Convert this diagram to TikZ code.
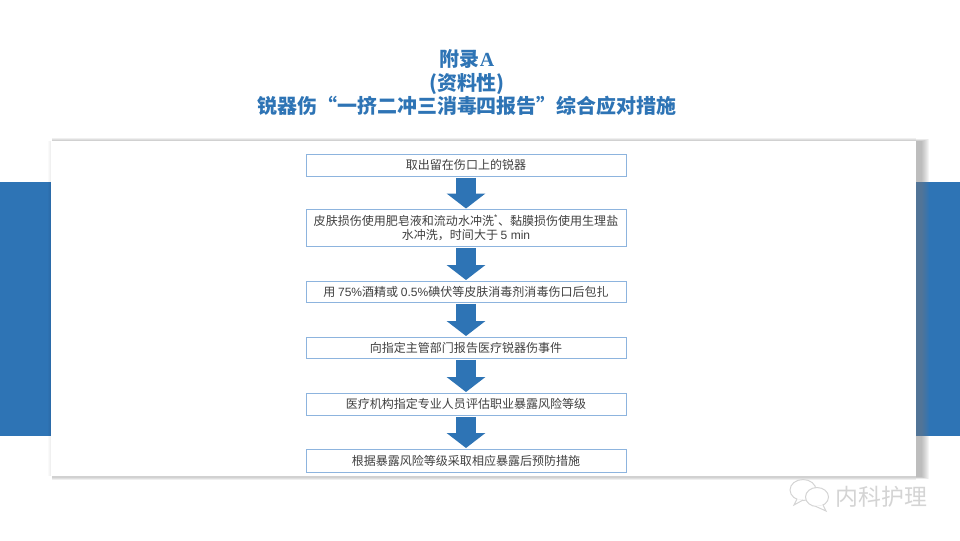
\documentclass[tikz,border=0pt]{standalone}
\usepackage{fontspec}
\usepackage{tikz}
\usetikzlibrary{positioning, arrows.meta}
\setmainfont{Noto Sans CJK SC}
\newfontfamily\latinfont{Liberation Sans}
\newfontfamily\serifbold{Liberation Serif}
\definecolor{bandblue}{HTML}{2E74B5}
\definecolor{boxline}{HTML}{8DB4DE}
\definecolor{bodytext}{HTML}{404040}
\definecolor{markgray}{HTML}{D4D4D4}
\definecolor{shadowgray}{HTML}{7D7D7D}

\begin{document}
\begin{tikzpicture}[x=0.025cm,y=-0.025cm,
        flowbox/.style={draw=boxline,line width=0.6pt,fill=white,minimum width=8cm,
            inner sep=0pt,outer sep=0pt,align=center,text=bodytext,
            font=\fontsize{8.55}{9.9}\selectfont},
        flowarrow/.style={draw=bandblue,line width=0.5cm,
            -{Triangle[width=0.95cm,length=0.375cm,fill=bandblue]},shorten <=1.4pt,shorten >=0.7pt},
        bubble/.style={draw=markgray,line width=0.7pt,fill=white}]
        \useasboundingbox (0,0) rectangle (960,540);
        \fill[white] (0,0) rectangle (960,540);

        % bands and panel
        \fill[bandblue] (0,182) rectangle (960,436);
        \foreach \i in {0,...,5}
            \fill[black,opacity=0.03] (52,{137.5+\i*0.5}) rectangle (916,{480-\i*0.5});
        \foreach \i in {0,...,7}
            \fill[shadowgray,opacity=0.08] (916,{139+\i*0.3}) rectangle ({929-\i},{479-\i*0.3});
        \foreach \i in {0,...,3}
            \fill[black,opacity=0.02] ({48+\i},141) rectangle (60,476);
        \fill[white] (51,141) rectangle (916,476);

        \node[text=bandblue,align=center,font=\fontsize{14.2}{16.7}\selectfont\bfseries] (title) at (467,83)
            {附录{\serifbold A}\\(资料性)\\锐器伤“一挤二冲三消毒四报告”综合应对措施};

        \node[flowbox,minimum height=0.55cm] (s1) at (466,165) {取出留在伤口上的锐器};
        \node[flowbox,minimum height=0.925cm] (s2) at (466,228) {皮肤损伤使用肥皂液和流动水冲洗{\latinfont\textsuperscript{*}}、黏膜损伤使用生理盐\\水冲洗，时间大于 {\latinfont 5 min}};
        \node[flowbox,minimum height=0.525cm] (s3) at (466,291.5) {用 {\latinfont 75\%}酒精或 {\latinfont 0.5\%}碘伏等皮肤消毒剂消毒伤口后包扎};
        \node[flowbox,minimum height=0.525cm] (s4) at (466,347.5) {向指定主管部门报告医疗锐器伤事件};
        \node[flowbox,minimum height=0.55cm] (s5) at (466,404) {医疗机构指定专业人员评估职业暴露风险等级};
        \node[flowbox,minimum height=0.575cm] (s6) at (466,460.5) {根据暴露风险等级采取相应暴露后预防措施};

        \path[flowarrow] (s1) edge (s2)
                         (s2) edge (s3)
                         (s3) edge (s4)
                         (s4) edge (s5)
                         (s5) edge (s6);

        % watermark
        \draw[bubble] (803,490) ellipse (13 and 10.5);
        \draw[bubble] (797,499) -- (794,505) -- (803,500);
        \draw[bubble] (817,497) ellipse (11.5 and 9.5);
        \draw[bubble] (823,505) -- (826,511) -- (816,506.5);
        \node[text=markgray,font=\fontsize{16.3}{18}\selectfont] (mark) at (881.5,497) {内科护理};
\end{tikzpicture}
\end{document}
